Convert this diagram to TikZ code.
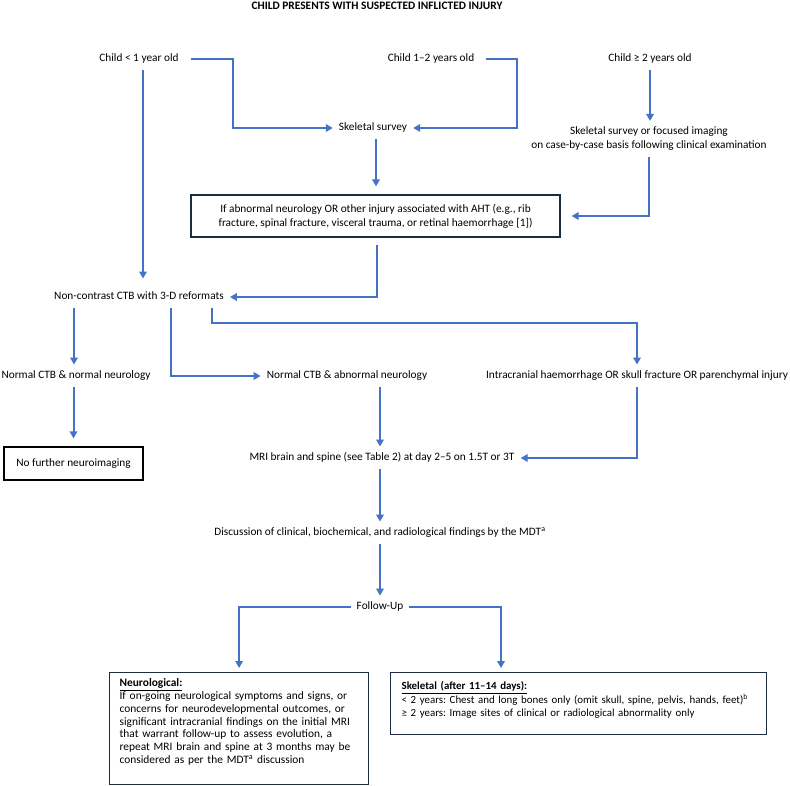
\documentclass[tikz,border=0pt]{standalone}
\usepackage{fontspec}
\setmainfont{Carlito}
\usetikzlibrary{arrows.meta}

\definecolor{azul}{RGB}{68,114,196}
\definecolor{marino}{RGB}{31,42,68}

\newcommand{\fuente}{\fontsize{11.3}{14}\selectfont}
\newcommand{\fuenteneuro}{\fontsize{11.4}{12.8}\selectfont}
\newcommand{\fuentehueso}{\fontsize{10.9}{13.5}\selectfont}
\frenchspacing

\tikzset{
  texto/.style={font=\fuente, align=center, inner xsep=6pt, inner ysep=6pt,
    text height=8pt, text depth=2.5pt},
  textodos/.style={font=\fuente, align=center, inner xsep=6pt, inner ysep=6pt},
  marco/.style={draw=marino, line width=1.2pt, font=\fuente, align=center},
  caja/.style={draw=marino, line width=1.2pt, align=left, anchor=north west},
  flecha/.style={draw=azul, line width=2pt, -{Triangle[length=7pt,width=7.5pt]}},
  linea/.style={draw=azul, line width=2pt}
}

\begin{document}
\begin{tikzpicture}[x=1pt,y=-1pt]
% Margenes del dibujo
\useasboundingbox (0,0) rectangle (790,786);

% Titulo
\node[font=\fontsize{11.4}{13}\selectfont\bfseries] (titulo) at (377,6) {CHILD PRESENTS WITH SUSPECTED INFLICTED INJURY};

% Las tres edades
\node[texto] (menor) at (139,59) {Child < 1 year old};
\node[texto] (medio) at (431,59) {Child 1–2 years old};
\node[texto] (mayor) at (650,59) {Child ≥ 2 years old};

% Estudios del esqueleto
\node[texto] (survey) at (373,128) {Skeletal survey};
\node[textodos] (focal) at (649,139) {Skeletal survey or focused imaging\\on case-by-case basis following clinical examination};

% El rectangulo con la condicion
\node[marco, minimum width=369pt, minimum height=42pt] (aht) at (375.5,216)
  {If abnormal neurology OR other injury associated with AHT (e.g., rib\\fracture, spinal fracture, visceral trauma, or retinal haemorrhage [1])};

% Tomografia
\node[texto] (ctb) at (139,297) {Non-contrast CTB with 3-D reformats};

% Resultados de la tomografia
\node[texto] (normal) at (76,376) {Normal CTB \& normal neurology};
\node[texto] (anormal) at (347,376) {Normal CTB \& abnormal neurology};
\node[texto] (lesion) at (637,376) {Intracranial haemorrhage OR skull fracture OR parenchymal injury};
\node[draw=black, line width=1.2pt, font=\fuente, minimum width=139pt, minimum height=33pt] (nada) at (73.5,463.5) {No further neuroimaging};

% Resonancia, discusion y seguimiento
\node[texto] (mri) at (382,458) {MRI brain and spine (see Table 2) at day 2–5 on 1.5T or 3T};
\node[texto] (mdt) at (380,533) {Discussion of clinical, biochemical, and radiological findings by the MDT\textsuperscript{a}};
\node[texto] (segui) at (380,607) {Follow-Up};

% Las dos cajas de abajo
\node[caja, font=\fuenteneuro, inner xsep=10pt, inner ysep=6pt, text width=239pt] (neuro) at (109,672)
  {\underline{\textbf{Neurological:}}\\
   If on-going neurological symptoms and signs, or\\
   concerns for neurodevelopmental outcomes, or\\
   significant intracranial findings on the initial MRI\\
   that warrant follow-up to assess evolution, a\\
   repeat MRI brain and spine at 3 months may be\\
   considered as per the MDT\textsuperscript{a} discussion\rule[-15pt]{0pt}{15pt}};
\node[caja, font=\fuentehueso, inner xsep=11pt, inner ysep=9pt, text width=354pt] (huesos) at (390,672)
  {\underline{\textbf{Skeletal (after 11–14 days):}}\\
   < 2 years: Chest and long bones only (omit skull, spine, pelvis, hands, feet)\textsuperscript{b}\\
   ≥ 2 years: Image sites of clinical or radiological abnormality only\rule[-8.5pt]{0pt}{8.5pt}};

% Flechas de arriba
\draw[flecha] ([xshift=6pt]menor.east) -- ++(42,0) |- (survey.west);
\draw[flecha] ([xshift=6pt]medio.east) -- ++(31,0) |- (survey.east);
\draw[flecha] (mayor.south) -- (mayor.south |- focal.north);
\draw[flecha, shorten >=8pt] ([xshift=3pt]survey.south) -- ([xshift=3pt]survey.south |- aht.north);
\draw[flecha, shorten >=11pt] (focal.south) |- (aht.east);
\draw[flecha, shorten <=7pt] ([xshift=1.5pt]aht.south) |- (ctb.east);
\draw[flecha, shorten >=7pt] ([xshift=4pt]menor.south) -- ([xshift=4pt]menor.south |- ctb.north);

% Flechas desde la tomografia
\draw[flecha] ([xshift=-65pt]ctb.south) -- ([xshift=-65pt]ctb.south |- normal.north);
\draw[flecha] ([xshift=32pt]ctb.south) |- (anormal.west);
\draw[flecha] ([xshift=73pt]ctb.south) -- ++(0,15) -| (lesion.north);
\draw[flecha, shorten >=8pt] (nada.north |- normal.south) -- (nada.north);
\draw[flecha] ([xshift=-2pt]mri.north |- anormal.south) -- ([xshift=-2pt]mri.north);
\draw[flecha] (lesion.south) |- (mri.east);

% Flechas de abajo
\draw[flecha] ([xshift=-2pt]mri.south) -- ([xshift=-2pt]mri.south |- mdt.north);
\draw[flecha] (mdt.south) -- (segui.north);
\draw[flecha, shorten >=4pt] (segui.west) -| (neuro.north);
\draw[flecha, shorten >=4pt] (segui.east) -| ([xshift=111pt]huesos.north west);
\end{tikzpicture}
\end{document}
